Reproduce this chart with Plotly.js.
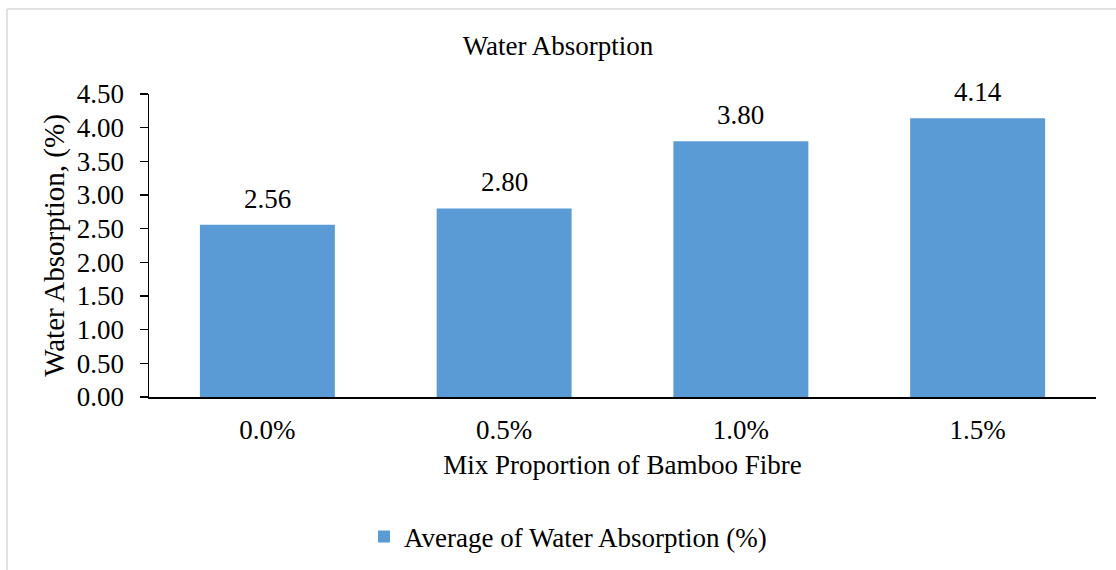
<!DOCTYPE html>
<html>
<head>
<meta charset="utf-8">
<script src="https://cdn.plot.ly/plotly-3.0.1.min.js"></script>
<style>
  html, body { margin: 0; padding: 0; background: #fff; }
  #chart { width: 1116px; height: 570px; }
</style>
</head>
<body>
<div id="chart"></div>
<script>
// Mix proportion of bamboo fibre and the average water absorption measured for each mix
const categories = ['0.0%', '0.5%', '1.0%', '1.5%'];
const absorption = [2.56, 2.80, 3.80, 4.14];
const yTickValues = [0, 0.5, 1, 1.5, 2, 2.5, 3, 3.5, 4, 4.5];

const serif = 'Liberation Serif, Times New Roman, serif';
const barColor = '#5B9BD5';
const textSize = 27;

const trace = {
  type: 'bar',
  x: categories,
  y: absorption,
  name: 'Average of Water Absorption (%)',
  marker: { color: barColor },
  width: 0.57,
  hoverinfo: 'x+y'
};

// value labels above each bar
const labels = categories.map((c, i) => ({
  x: c,
  y: absorption[i],
  xref: 'x',
  yref: 'y',
  text: absorption[i].toFixed(2),
  showarrow: false,
  yanchor: 'bottom',
  yshift: 9,
  font: { family: serif, size: textSize, color: '#000' }
}));

const layout = {
  width: 1116,
  height: 570,
  margin: { l: 149, r: 20, t: 94, b: 173 },
  paper_bgcolor: '#fff',
  plot_bgcolor: '#fff',
  font: { family: serif, color: '#000' },
  title: {
    text: 'Water Absorption',
    font: { family: serif, size: textSize, color: '#000' },
    x: 0.5,
    xref: 'container',
    y: 1 - 46 / 570,
    yref: 'container',
    yanchor: 'middle'
  },
  xaxis: {
    type: 'category',
    showgrid: false,
    showline: true,
    linecolor: '#000',
    linewidth: 1.5,
    ticks: '',
    ticklabelstandoff: 8,
    tickfont: { family: serif, size: textSize, color: '#000' },
    title: {
      text: 'Mix Proportion of Bamboo Fibre',
      font: { family: serif, size: textSize, color: '#000' },
      standoff: 11
    }
  },
  yaxis: {
    range: [0, 4.5],
    tickvals: yTickValues,
    tickformat: '.2f',
    showgrid: false,
    zeroline: false,
    showline: true,
    linecolor: '#000',
    linewidth: 1.5,
    ticks: 'outside',
    ticklen: 8,
    tickwidth: 1.5,
    tickcolor: '#000',
    ticklabelstandoff: 10,
    tickfont: { family: serif, size: textSize, color: '#000' },
    title: {
      text: 'Water Absorption, (%)',
      font: { family: serif, size: 29, color: '#000' },
      standoff: 3
    }
  },
  showlegend: true,
  legend: {
    orientation: 'h',
    x: 364 / 1116,
    xanchor: 'left',
    xref: 'container',
    y: 1 - 537 / 570,
    yref: 'container',
    yanchor: 'middle',
    font: { family: serif, size: textSize, color: '#000' },
    itemwidth: 30
  },
  annotations: labels,
  shapes: [
    // thin frame along the left and top of the chart area
    { type: 'line', xref: 'paper', yref: 'paper',
      x0: (7 - 149) / 947, x1: (7 - 149) / 947, y0: (397 - 570) / 303, y1: (397 - 9) / 303,
      line: { color: '#d9d9d9', width: 1.5 } },
    { type: 'line', xref: 'paper', yref: 'paper',
      x0: (7 - 149) / 947, x1: (1116 - 149) / 947, y0: (397 - 9) / 303, y1: (397 - 9) / 303,
      line: { color: '#d9d9d9', width: 1.5 } }
  ]
};

Plotly.newPlot('chart', [trace], layout, { displayModeBar: false, staticPlot: true });
</script>
</body>
</html>
